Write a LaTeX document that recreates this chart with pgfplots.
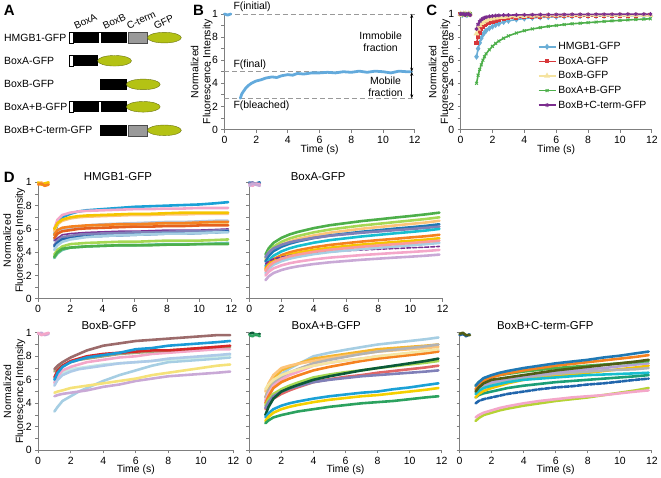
\documentclass[border=0pt]{standalone}
\usepackage{pgfplots}
\pgfplotsset{compat=1.18}
\usepackage{pgfplotstable}
\usepackage{fontspec}
\setmainfont{Liberation Sans}
\usetikzlibrary{arrows.meta}

\definecolor{axgray}{HTML}{7F7F7F}
\definecolor{cCyan}{HTML}{1BA1D6}
\definecolor{cCyanB}{HTML}{17BECF}
\definecolor{cPink}{HTML}{F4A7C9}
\definecolor{cLOrange}{HTML}{FDC47A}
\definecolor{cGold}{HTML}{F5C400}
\definecolor{cGoldOr}{HTML}{F5B52E}
\definecolor{cLYellow}{HTML}{F5E6A3}
\definecolor{cYellowB}{HTML}{F5E27A}
\definecolor{cYellow}{HTML}{F5D000}
\definecolor{cLGBlue}{HTML}{B4C8E4}
\definecolor{cOrange}{HTML}{F58220}
\definecolor{cDOrange}{HTML}{E5611E}
\definecolor{cPurple}{HTML}{7B3294}
\definecolor{cSlate}{HTML}{8080B8}
\definecolor{cDBlue}{HTML}{2166AC}
\definecolor{cBlue}{HTML}{1F78B4}
\definecolor{cBlueB}{HTML}{1A9AD6}
\definecolor{cLBlue}{HTML}{A6CEE3}
\definecolor{cLBlue2}{HTML}{AECBE8}
\definecolor{cLime}{HTML}{A6D854}
\definecolor{cLime2}{HTML}{B5D334}
\definecolor{cTeal}{HTML}{66C2A5}
\definecolor{cTeal2}{HTML}{1B9E77}
\definecolor{cGreen}{HTML}{4DAF4A}
\definecolor{cTGreen}{HTML}{2CA25F}
\definecolor{cDGreen}{HTML}{0B5A38}
\definecolor{cSalmon}{HTML}{FB9A99}
\definecolor{cMauve}{HTML}{C9A9D6}
\definecolor{cLPurple}{HTML}{B3A2D2}
\definecolor{cRed}{HTML}{D62728}
\definecolor{cRedL}{HTML}{E06666}
\definecolor{cBrown}{HTML}{9C6B6B}
\definecolor{cGrOlive}{HTML}{A3A37A}
\definecolor{cMint}{HTML}{C7EAE5}
\definecolor{cGray}{HTML}{B3B3B3}
\definecolor{cDOlive}{HTML}{4F5D16}
\definecolor{bBlue}{HTML}{63AADC}
\definecolor{lH}{HTML}{6BAED6}
\definecolor{lA}{HTML}{D7373A}
\definecolor{lB}{HTML}{F5E3A0}
\definecolor{lAB}{HTML}{4DAF4A}
\definecolor{lBC}{HTML}{7B2D8E}
\definecolor{gfp}{HTML}{B4C214}
\definecolor{gfpedge}{HTML}{6B7310}
\definecolor{boxgray}{HTML}{9A9A9A}

\pgfplotstableread{
t c1 c2 c3 c4 c5 c6 c7 c8 c9 c10 c11 c12 c13 c14 c15
0 nan nan 0.99 1.00 nan nan 0.98 nan nan nan nan nan nan nan nan
0.2 nan nan 1.00 0.98 nan nan 0.99 nan nan nan nan nan nan nan nan
0.4 nan nan 0.98 0.99 nan nan 0.97 nan nan nan nan nan nan nan nan
0.65 nan nan 0.99 1.00 nan nan 0.98 nan nan nan nan nan nan nan nan
0.8 nan nan nan nan nan nan nan nan nan nan nan nan nan nan nan
1 0.55 0.60 0.58 0.60 0.55 0.50 0.55 0.52 0.50 0.46 0.45 0.42 0.38 0.35 0.36
1.2 0.64 0.68 0.64 0.65 0.58 0.56 0.59 0.56 0.52 0.50 0.48 0.46 0.42 0.39 0.40
1.5 0.70 0.72 0.67 0.68 0.60 0.59 0.61 0.58 0.55 0.53 0.51 0.49 0.45 0.42 0.43
2 0.73 0.74 0.69 0.70 0.61 0.61 0.62 0.59 0.56 0.54 0.52 0.51 0.47 0.44 0.44
2.5 0.75 0.75 0.70 0.71 0.615 0.62 0.625 0.60 0.565 0.55 0.53 0.52 0.475 0.445 0.445
3 0.76 0.755 0.705 0.715 0.62 0.63 0.63 0.605 0.57 0.555 0.535 0.53 0.48 0.45 0.45
4 0.77 0.76 0.71 0.72 0.62 0.64 0.635 0.61 0.575 0.56 0.54 0.54 0.485 0.455 0.455
5 0.78 0.765 0.715 0.725 0.625 0.645 0.64 0.615 0.58 0.565 0.545 0.545 0.49 0.46 0.46
6 0.79 0.77 0.72 0.73 0.63 0.65 0.64 0.62 0.58 0.57 0.55 0.55 0.49 0.46 0.46
7 0.795 0.77 0.72 0.73 0.63 0.655 0.645 0.62 0.585 0.57 0.555 0.555 0.495 0.465 0.46
8 0.80 0.775 0.725 0.735 0.63 0.66 0.65 0.625 0.59 0.575 0.56 0.56 0.50 0.47 0.465
9 0.805 0.775 0.725 0.74 0.635 0.66 0.65 0.625 0.59 0.58 0.56 0.56 0.50 0.47 0.465
10 0.81 0.78 0.73 0.74 0.64 0.665 0.655 0.63 0.59 0.58 0.565 0.565 0.50 0.47 0.47
11 0.82 0.78 0.73 0.74 0.64 0.67 0.66 0.63 0.595 0.585 0.57 0.57 0.505 0.475 0.47
11.8 0.83 0.78 0.73 0.74 0.64 0.67 0.66 0.63 0.60 0.59 0.58 0.57 0.51 0.48 0.47
}\hmgbtab

\pgfplotstableread{
t c1 c2 c3 c4 c5 c6 c7 c8 c9 c10 c11 c12 c13
0 nan nan nan 1.00 0.99 nan nan nan nan nan nan 0.98 0.97
0.2 nan nan nan 0.98 1.00 nan nan nan nan nan nan 0.97 0.99
0.4 nan nan nan 0.99 0.98 nan nan nan nan nan nan 0.99 0.98
0.65 nan nan nan 1.00 0.99 nan nan nan nan nan nan 0.98 0.97
0.8 nan nan nan nan nan nan nan nan nan nan nan nan nan
1 0.38 0.35 0.33 0.32 0.36 0.28 0.26 0.25 0.30 0.22 0.24 0.20 0.16
1.2 0.434 0.403 0.381 0.368 0.399 0.328 0.304 0.291 0.323 0.259 0.279 0.233 0.193
1.5 0.481 0.448 0.425 0.41 0.433 0.37 0.341 0.326 0.342 0.293 0.313 0.262 0.222
2 0.524 0.49 0.466 0.448 0.464 0.408 0.376 0.358 0.36 0.324 0.344 0.288 0.248
2.5 0.553 0.518 0.493 0.474 0.485 0.434 0.399 0.38 0.372 0.345 0.365 0.306 0.266
3 0.574 0.539 0.514 0.493 0.5 0.453 0.417 0.396 0.381 0.36 0.38 0.319 0.279
4 0.607 0.571 0.544 0.522 0.524 0.482 0.443 0.42 0.395 0.384 0.404 0.339 0.299
5 0.632 0.595 0.568 0.544 0.542 0.504 0.463 0.439 0.405 0.402 0.422 0.354 0.314
6 0.65 0.613 0.585 0.56 0.555 0.52 0.478 0.453 0.413 0.415 0.435 0.365 0.325
7 0.668 0.63 0.602 0.576 0.568 0.536 0.492 0.466 0.42 0.428 0.448 0.376 0.336
8 0.682 0.644 0.616 0.589 0.578 0.549 0.504 0.477 0.426 0.438 0.458 0.385 0.345
9 0.697 0.658 0.629 0.602 0.589 0.562 0.515 0.488 0.432 0.449 0.469 0.394 0.354
10 0.711 0.672 0.643 0.614 0.599 0.574 0.527 0.498 0.438 0.459 0.479 0.402 0.362
11 0.726 0.686 0.656 0.627 0.61 0.587 0.538 0.509 0.444 0.47 0.49 0.411 0.371
11.8 0.74 0.70 0.67 0.64 0.62 0.60 0.55 0.52 0.45 0.48 0.50 0.42 0.38
}\boxatab

\pgfplotstableread{
t c1 c2 c3 c4 c5 c6 c7 c8 c9 c10
0 nan 0.99 nan nan 1.00 nan nan nan nan nan
0.2 nan 1.00 nan nan 0.98 nan nan nan nan nan
0.4 nan 0.98 nan nan 0.99 nan nan nan nan nan
0.65 nan 0.99 nan nan 1.00 nan nan nan nan nan
0.8 nan nan nan nan nan nan nan nan nan nan
1 0.33 0.46 0.49 0.58 0.57 0.55 0.67 0.62 0.60 0.69
1.2 0.37 0.47 0.50 0.62 0.63 0.60 0.70 0.68 0.66 0.72
1.5 0.42 0.48 0.51 0.66 0.68 0.64 0.72 0.72 0.71 0.75
2 0.46 0.49 0.53 0.69 0.71 0.67 0.75 0.76 0.75 0.79
2.5 0.50 0.50 0.54 0.70 0.73 0.69 0.77 0.78 0.77 0.82
3 0.53 0.51 0.55 0.71 0.75 0.70 0.78 0.80 0.79 0.85
4 0.59 0.54 0.57 0.73 0.77 0.72 0.80 0.82 0.81 0.89
5 0.64 0.56 0.59 0.74 0.79 0.74 0.82 0.83 0.83 0.91
6 0.68 0.59 0.61 0.75 0.80 0.75 0.83 0.84 0.86 0.93
7 0.72 0.61 0.64 0.76 0.82 0.76 0.84 0.85 0.87 0.94
8 0.75 0.63 0.66 0.77 0.83 0.78 0.85 0.85 0.89 0.95
9 0.76 0.64 0.68 0.78 0.84 0.79 0.86 0.86 0.90 0.96
10 0.77 0.65 0.70 0.79 0.85 0.80 0.87 0.87 0.91 0.97
11 0.78 0.66 0.72 0.80 0.86 0.81 0.88 0.88 0.92 0.98
11.8 0.79 0.67 0.73 0.81 0.86 0.82 0.88 0.89 0.93 0.98
}\boxbtab

\pgfplotstableread{
t c1 c2 c3 c4 c5 c6 c7 c8 c9 c10 c11 c12 c13 c14
0 nan nan nan nan nan nan nan nan nan nan 0.99 nan nan 0.98
0.2 nan nan nan nan nan nan nan nan nan nan 1.00 nan nan 0.97
0.4 nan nan nan nan nan nan nan nan nan nan 0.98 nan nan 0.99
0.65 nan nan nan nan nan nan nan nan nan nan 0.99 nan nan 0.97
0.8 nan nan nan nan nan nan nan nan nan nan nan nan nan nan
1 0.42 0.45 0.50 0.45 0.42 0.40 0.52 0.38 0.35 0.36 0.30 0.28 0.25 0.23
1.2 0.50 0.53 0.57 0.51 0.48 0.46 0.56 0.43 0.40 0.41 0.37 0.315 0.285 0.255
1.5 0.58 0.61 0.64 0.57 0.55 0.53 0.60 0.48 0.44 0.46 0.44 0.35 0.32 0.28
2 0.65 0.68 0.70 0.62 0.60 0.58 0.64 0.52 0.48 0.50 0.50 0.38 0.35 0.30
2.5 0.695 0.71 0.72 0.66 0.64 0.61 0.665 0.55 0.51 0.525 0.53 0.40 0.37 0.315
3 0.73 0.735 0.735 0.69 0.665 0.635 0.685 0.575 0.535 0.545 0.555 0.415 0.385 0.33
4 0.80 0.78 0.76 0.74 0.72 0.68 0.72 0.62 0.58 0.58 0.60 0.44 0.41 0.35
5 0.83 0.80 0.785 0.77 0.745 0.71 0.745 0.645 0.605 0.60 0.63 0.46 0.43 0.37
6 0.855 0.82 0.805 0.795 0.765 0.735 0.765 0.665 0.625 0.615 0.655 0.475 0.445 0.385
7 0.878 0.84 0.82 0.82 0.78 0.76 0.78 0.68 0.64 0.63 0.68 0.49 0.46 0.40
8 0.90 0.86 0.84 0.84 0.80 0.78 0.80 0.70 0.66 0.64 0.70 0.50 0.47 0.41
9 0.915 0.87 0.85 0.855 0.81 0.795 0.815 0.715 0.675 0.65 0.72 0.52 0.485 0.42
10 0.93 0.88 0.86 0.87 0.825 0.81 0.83 0.73 0.69 0.66 0.74 0.535 0.50 0.435
11 0.945 0.89 0.87 0.885 0.84 0.825 0.845 0.745 0.705 0.67 0.76 0.555 0.515 0.45
11.8 0.96 0.90 0.88 0.90 0.85 0.84 0.86 0.76 0.72 0.68 0.78 0.57 0.53 0.46
}\boxabtab

\pgfplotstableread{
t c1 c2 c3 c4 c5 c6 c7 c8 c9 c10 c11 c12
0 nan nan 0.98 nan nan nan nan nan nan nan nan 0.99
0.2 nan nan 0.99 nan nan nan nan nan nan nan nan 1.00
0.4 nan nan 0.97 nan nan nan nan nan nan nan nan 0.98
0.65 nan nan 0.99 nan nan nan nan nan nan nan nan 0.98
0.8 nan nan nan nan nan nan nan nan nan nan nan nan
1 0.25 0.28 0.40 0.45 0.45 0.50 0.52 0.48 0.55 0.52 0.55 0.50
1.2 0.275 0.30 0.42 0.47 0.48 0.525 0.54 0.505 0.58 0.555 0.58 0.535
1.5 0.30 0.32 0.435 0.485 0.505 0.55 0.56 0.53 0.61 0.59 0.615 0.57
2 0.32 0.34 0.45 0.50 0.53 0.57 0.58 0.55 0.63 0.62 0.64 0.60
2.5 0.34 0.36 0.465 0.515 0.55 0.585 0.595 0.565 0.64 0.64 0.66 0.61
3 0.355 0.375 0.48 0.53 0.57 0.60 0.61 0.58 0.65 0.655 0.675 0.62
4 0.38 0.40 0.50 0.55 0.60 0.62 0.63 0.60 0.67 0.68 0.70 0.64
5 0.40 0.42 0.52 0.565 0.62 0.635 0.65 0.61 0.685 0.70 0.72 0.66
6 0.42 0.435 0.535 0.58 0.635 0.65 0.665 0.62 0.70 0.72 0.74 0.68
7 0.435 0.45 0.545 0.59 0.645 0.66 0.675 0.63 0.71 0.735 0.755 0.695
8 0.45 0.46 0.56 0.60 0.66 0.67 0.69 0.64 0.72 0.75 0.77 0.71
9 0.47 0.47 0.57 0.61 0.675 0.68 0.70 0.645 0.73 0.765 0.79 0.725
10 0.49 0.485 0.585 0.62 0.69 0.685 0.715 0.65 0.74 0.78 0.805 0.74
11 0.51 0.50 0.60 0.63 0.705 0.69 0.73 0.655 0.75 0.795 0.825 0.755
11.8 0.53 0.51 0.61 0.64 0.72 0.70 0.74 0.66 0.76 0.81 0.84 0.77
}\boxbctab

\pgfplotstableread{
t h a b ab bc
0 1.00 1.00 1.00 1.00 1.00
0.1 0.99 1.00 0.99 1.00 1.00
0.2 1.00 0.99 1.00 0.99 1.00
0.3 1.00 1.00 1.00 1.00 0.99
0.4 0.99 1.00 0.99 1.00 1.00
0.5 1.00 0.99 1.00 0.99 1.00
0.6 1.00 1.00 1.00 1.00 0.99
0.8 nan nan nan nan nan
1 0.63 0.75 0.83 0.40 0.87
1.1 0.70 0.80 0.87 0.47 0.91
1.2 0.75 0.84 0.90 0.52 0.935
1.3 0.79 0.87 0.92 0.56 0.95
1.4 0.82 0.89 0.93 0.60 0.96
1.5 0.84 0.905 0.94 0.63 0.967
1.6 0.855 0.915 0.945 0.655 0.972
1.8 0.875 0.925 0.955 0.69 0.978
2 0.89 0.935 0.96 0.72 0.982
2.2 0.905 0.943 0.965 0.745 0.985
2.4 0.915 0.95 0.97 0.765 0.987
2.7 0.93 0.957 0.973 0.79 0.989
3 0.94 0.962 0.976 0.81 0.99
3.5 0.952 0.968 0.98 0.835 0.991
4 0.96 0.972 0.982 0.855 0.992
4.5 0.966 0.975 0.984 0.87 0.993
5 0.97 0.977 0.985 0.882 0.994
5.5 0.973 0.979 0.986 0.893 0.994
6 0.975 0.98 0.987 0.90 0.995
6.5 0.977 0.981 0.987 0.908 0.995
7 0.979 0.982 0.988 0.915 0.996
7.5 0.98 0.983 0.988 0.92 0.996
8 0.981 0.984 0.989 0.925 0.996
8.5 0.982 0.985 0.989 0.93 0.997
9 0.983 0.985 0.989 0.935 0.997
9.5 0.984 0.986 0.99 0.94 0.997
10 0.985 0.986 0.99 0.944 0.998
10.5 0.986 0.987 0.99 0.948 0.998
11 0.987 0.987 0.99 0.952 0.998
11.5 0.987 0.988 0.99 0.955 0.998
11.9 0.988 0.988 0.99 0.958 0.998
}\ctab

\pgfplotsset{
  fr/.style={scale only axis, xmin=0, xmax=12, ymin=0, ymax=1,
    axis lines*=left, axis line style={draw=axgray, line width=0.9pt},
    xtick={0,2,4,6,8,10,12}, ytick={0,0.2,0.4,0.6,0.8,1},
    minor ytick={0.1,0.3,0.5,0.7,0.9},
    tick pos=left, tick align=outside, major tick length=3pt, minor tick length=3pt,
    tick style={draw=axgray, line width=0.8pt},
    tick label style={font=\fontsize{10.5}{12}\selectfont},
    clip=false, unbounded coords=jump,
    /pgf/number format/assume math mode=true,
    yticklabels={0,.2,.4,.6,.8,1},
    label style={font=\fontsize{10.5}{12}\selectfont},
    ylabel style={align=center, anchor=center},
    xlabel style={anchor=center}},
  withyl/.style={ylabel={Normalized\\Fluorescence Intensity}},
  cv/.style={line width=2.6pt, line join=round, line cap=round, mark=none},
}

\newcommand{\ttl}[3]{\node[font=\fontsize{11.5}{13}\selectfont] at (axis cs:#1,#2) {#3};}

\begin{document}
\begin{tikzpicture}
\path (0pt,0pt) rectangle (661pt,478pt);

% ---------- Panel A ----------
\begin{axis}[at={(0pt,328pt)}, anchor=origin, scale only axis, width=230pt, height=150pt,
  xmin=0, xmax=230, ymin=0, ymax=150, hide axis, clip=false]
\draw[black, fill=white, line width=0.6pt] (axis cs:68.3,106.7) rectangle (axis cs:72.3,117.7);
\fill[black] (axis cs:72.3,106.7) rectangle (axis cs:125.7,117.7);
\fill[white] (axis cs:98.5,107.3) rectangle (axis cs:99.9,117.1);
\draw[fill=boxgray, draw=black!70, line width=0.5pt] (axis cs:127.3,106.7) rectangle (axis cs:146.7,117.7);
\draw[fill=gfp, draw=gfpedge, line width=0.4pt] (axis cs:163.7,112.2) ellipse [x radius=17, y radius=5.3];
\draw[black, fill=white, line width=0.6pt] (axis cs:68.3,83.5) rectangle (axis cs:72.3,94.5);
\fill[black] (axis cs:72.3,83.5) rectangle (axis cs:96.7,94.5);
\draw[fill=gfp, draw=gfpedge, line width=0.4pt] (axis cs:113.7,89) ellipse [x radius=17, y radius=5.3];
\fill[black] (axis cs:99.3,59.8) rectangle (axis cs:125.7,70.8);
\draw[fill=gfp, draw=gfpedge, line width=0.4pt] (axis cs:142.5,65.3) ellipse [x radius=17, y radius=5.3];
\draw[black, fill=white, line width=0.6pt] (axis cs:68.3,37.3) rectangle (axis cs:72.3,48.3);
\fill[black] (axis cs:72.3,37.3) rectangle (axis cs:125.7,48.3);
\fill[white] (axis cs:98.5,37.9) rectangle (axis cs:99.9,47.7);
\draw[fill=gfp, draw=gfpedge, line width=0.4pt] (axis cs:142.5,42.8) ellipse [x radius=17, y radius=5.3];
\fill[black] (axis cs:99.3,13.7) rectangle (axis cs:125.7,24.7);
\draw[fill=boxgray, draw=black!70, line width=0.5pt] (axis cs:127.3,13.7) rectangle (axis cs:146.7,24.7);
\draw[fill=gfp, draw=gfpedge, line width=0.4pt] (axis cs:163.7,19.2) ellipse [x radius=17, y radius=5.3];
\begin{scope}[font=\fontsize{10.5}{12}\selectfont]
\node[anchor=west, inner sep=0] at (axis cs:2.7,112.2) {HMGB1-GFP};
\node[anchor=west, inner sep=0] at (axis cs:2.7,89) {BoxA-GFP};
\node[anchor=west, inner sep=0] at (axis cs:2.7,65.3) {BoxB-GFP};
\node[anchor=west, inner sep=0] at (axis cs:2.7,42.8) {BoxA+B-GFP};
\node[anchor=west, inner sep=0] at (axis cs:2.7,19.2) {BoxB+C-term-GFP};
\end{scope}
\begin{scope}[font=\fontsize{10}{11}\selectfont]
\node[rotate=25, anchor=south west, inner sep=0] at (axis cs:75,120) {BoxA};
\node[rotate=25, anchor=south west, inner sep=0] at (axis cs:104,120) {BoxB};
\node[rotate=25, anchor=south west, inner sep=0] at (axis cs:128,120) {C-term};
\node[rotate=25, anchor=south west, inner sep=0] at (axis cs:155,120) {GFP};
\end{scope}
\end{axis}

% ---------- Panel B ----------
\begin{axis}[fr, withyl, at={(224pt,348pt)}, anchor=origin, width=191pt, height=116pt,
  xlabel={Time (s)},
  xlabel style={at={(axis description cs:0.5,-0.175)}},
  ylabel style={at={(axis description cs:-0.12,0.5)}}]
\addplot[dashed, draw=gray!80, line width=0.8pt, dash pattern=on 5pt off 3pt] coordinates {(0.15,1) (12,1)};
\addplot[dashed, draw=gray!80, line width=0.8pt, dash pattern=on 5pt off 3pt] coordinates {(0,0.5) (12,0.5)};
\addplot[dashed, draw=gray!80, line width=0.8pt, dash pattern=on 5pt off 3pt] coordinates {(0,0.27) (12,0.27)};
\addplot[cv, bBlue, line width=2.8pt] coordinates {(0,1) (0.2,0.99) (0.4,1.0)};
\addplot[cv, bBlue, line width=2.8pt] coordinates {
(1,0.27) (1.1,0.31) (1.2,0.33) (1.35,0.36) (1.5,0.38) (1.7,0.40) (2,0.42) (2.3,0.43)
(2.6,0.445) (3,0.455) (3.3,0.45) (3.6,0.465) (4,0.475) (4.3,0.47) (4.6,0.485) (5,0.48)
(5.5,0.49) (6,0.49) (6.5,0.495) (7,0.49) (7.5,0.50) (8,0.495) (8.5,0.505) (9,0.495)
(9.5,0.505) (10,0.50) (10.5,0.49) (11,0.505) (11.5,0.50) (11.8,0.50)};
\draw[{Stealth[length=4pt,width=3pt]}-{Stealth[length=4pt,width=3pt]}, line width=0.7pt] (axis cs:11.81,1) -- (axis cs:11.81,0.5);
\draw[{Stealth[length=4pt,width=3pt]}-{Stealth[length=4pt,width=3pt]}, line width=0.7pt] (axis cs:11.81,0.5) -- (axis cs:11.81,0.27);
\begin{scope}[font=\fontsize{10.5}{12}\selectfont]
\node[anchor=west, inner sep=0] at (axis cs:0.56,1.06) {F(initial)};
\node[anchor=west, inner sep=0] at (axis cs:0.56,0.56) {F(final)};
\node[anchor=west, inner sep=0] at (axis cs:0.56,0.207) {F(bleached)};
\node[anchor=east, align=center, inner sep=0] at (axis cs:11.2,0.76) {Immobile\\fraction};
\node[anchor=east, align=center, inner sep=0] at (axis cs:11.25,0.37) {Mobile\\fraction};
\end{scope}
\end{axis}

% ---------- Panel C ----------
\begin{axis}[fr, withyl, at={(461pt,348pt)}, anchor=origin, width=192pt, height=116pt,
  xlabel={Time (s)},
  xlabel style={at={(axis description cs:0.5,-0.175)}},
  ylabel style={at={(axis description cs:-0.11,0.5)}},
  legend style={at={(axis cs:4.64,0.79)}, anchor=north west, draw=none, fill=none,
    font=\fontsize{10.5}{12}\selectfont, row sep=1.8pt},
  legend cell align=left]
\addplot[color=lH, line width=1.6pt, mark=diamond*, mark size=1.8pt] table[x=t,y=h]{\ctab};
\addlegendentry{HMGB1-GFP}
\addplot[color=lA, line width=1.6pt, mark=square*, mark size=1.3pt] table[x=t,y=a]{\ctab};
\addlegendentry{BoxA-GFP}
\addplot[color=lB, line width=1.6pt, mark=triangle*, mark size=1.9pt] table[x=t,y=b]{\ctab};
\addlegendentry{BoxB-GFP}
\addplot[color=lAB, line width=1.6pt, mark=x, mark size=2pt, mark options={line width=1pt}] table[x=t,y=ab]{\ctab};
\addlegendentry{BoxA+B-GFP}
\addplot[color=lBC, line width=1.6pt, mark=asterisk, mark size=2pt, mark options={line width=1pt}] table[x=t,y=bc]{\ctab};
\addlegendentry{BoxB+C-term-GFP}
\end{axis}

% ---------- Panel D: HMGB1 ----------
\begin{axis}[fr, withyl, at={(37pt,178pt)}, anchor=origin, width=194pt, height=117pt,
  ylabel style={at={(axis description cs:-0.124,0.5)}}]
\addplot[cv, cCyan] table[x=t,y=c1]{\hmgbtab};
\addplot[cv, cPink] table[x=t,y=c2]{\hmgbtab};
\addplot[cv, cLOrange] table[x=t,y=c3]{\hmgbtab};
\addplot[cv, cGold] table[x=t,y=c4]{\hmgbtab};
\addplot[cv, cLYellow] table[x=t,y=c5]{\hmgbtab};
\addplot[cv, cLGBlue] table[x=t,y=c6]{\hmgbtab};
\addplot[cv, cOrange] table[x=t,y=c7]{\hmgbtab};
\addplot[cv, cDOrange] table[x=t,y=c8]{\hmgbtab};
\addplot[cv, cPurple, line width=1.6pt] table[x=t,y=c9]{\hmgbtab};
\addplot[cv, cSlate] table[x=t,y=c10]{\hmgbtab};
\addplot[cv, cDBlue] table[x=t,y=c11]{\hmgbtab};
\addplot[cv, cLBlue] table[x=t,y=c12]{\hmgbtab};
\addplot[cv, cLime] table[x=t,y=c13]{\hmgbtab};
\addplot[cv, cTeal] table[x=t,y=c14]{\hmgbtab};
\addplot[cv, cGreen] table[x=t,y=c15]{\hmgbtab};
\ttl{4.95}{1.051}{HMGB1-GFP}
\end{axis}

% ---------- Panel D: BoxA ----------
\begin{axis}[fr, at={(249pt,178pt)}, anchor=origin, width=194pt, height=117pt, yticklabels={}]
\addplot[cv, cGreen] table[x=t,y=c1]{\boxatab};
\addplot[cv, cLime] table[x=t,y=c2]{\boxatab};
\addplot[cv, cLOrange] table[x=t,y=c3]{\boxatab};
\addplot[cv, cBlue] table[x=t,y=c4]{\boxatab};
\addplot[cv, cSlate] table[x=t,y=c5]{\boxatab};
\addplot[cv, cCyanB] table[x=t,y=c6]{\boxatab};
\addplot[cv, cOrange] table[x=t,y=c7]{\boxatab};
\addplot[cv, cGold] table[x=t,y=c8]{\boxatab};
\addplot[cv, cPurple, line width=1.6pt, dash pattern=on 4pt off 2pt] table[x=t,y=c9]{\boxatab};
\addplot[cv, cLBlue] table[x=t,y=c10]{\boxatab};
\addplot[cv, cSalmon] table[x=t,y=c11]{\boxatab};
\addplot[cv, cPink] table[x=t,y=c12]{\boxatab};
\addplot[cv, cMauve] table[x=t,y=c13]{\boxatab};
\ttl{4.27}{1.051}{BoxA-GFP}
\end{axis}

% ---------- Panel D: BoxB ----------
\begin{axis}[fr, withyl, at={(37pt,26pt)}, anchor=origin, width=196pt, height=118pt,
  xlabel={Time (s)},
  xlabel style={at={(axis description cs:0.5,-0.162)}},
  ylabel style={at={(axis description cs:-0.122,0.5)}}]
\addplot[cv, cLBlue] table[x=t,y=c1]{\boxbtab};
\addplot[cv, cMauve] table[x=t,y=c2]{\boxbtab};
\addplot[cv, cYellowB] table[x=t,y=c3]{\boxbtab};
\addplot[cv, cMint] table[x=t,y=c4]{\boxbtab};
\addplot[cv, cPink] table[x=t,y=c5]{\boxbtab};
\addplot[cv, cLBlue2] table[x=t,y=c6]{\boxbtab};
\addplot[cv, cGrOlive] table[x=t,y=c7]{\boxbtab};
\addplot[cv, cRed] table[x=t,y=c8]{\boxbtab};
\addplot[cv, cBlueB] table[x=t,y=c9]{\boxbtab};
\addplot[cv, cBrown] table[x=t,y=c10]{\boxbtab};
\ttl{4.35}{1.06}{BoxB-GFP}
\end{axis}

% ---------- Panel D: BoxA+B ----------
\begin{axis}[fr, at={(249pt,26pt)}, anchor=origin, width=193pt, height=118pt, yticklabels={},
  xlabel={Time (s)},
  xlabel style={at={(axis description cs:0.5,-0.162)}}]
\addplot[cv, cLBlue] table[x=t,y=c1]{\boxabtab};
\addplot[cv, cGoldOr] table[x=t,y=c2]{\boxabtab};
\addplot[cv, cLOrange] table[x=t,y=c3]{\boxabtab};
\addplot[cv, cGray] table[x=t,y=c4]{\boxabtab};
\addplot[cv, cPink] table[x=t,y=c5]{\boxabtab};
\addplot[cv, cOrange] table[x=t,y=c6]{\boxabtab};
\addplot[cv, cLYellow] table[x=t,y=c7]{\boxabtab};
\addplot[cv, cLime] table[x=t,y=c8]{\boxabtab};
\addplot[cv, cRedL] table[x=t,y=c9]{\boxabtab};
\addplot[cv, cSlate] table[x=t,y=c10]{\boxabtab};
\addplot[cv, cDGreen] table[x=t,y=c11]{\boxabtab};
\addplot[cv, cCyan] table[x=t,y=c12]{\boxabtab};
\addplot[cv, cYellow] table[x=t,y=c13]{\boxabtab};
\addplot[cv, cTGreen] table[x=t,y=c14]{\boxabtab};
\ttl{4.8}{1.06}{BoxA+B-GFP}
\end{axis}

% ---------- Panel D: BoxB+C ----------
\begin{axis}[fr, at={(460pt,26pt)}, anchor=origin, width=193pt, height=118pt, yticklabels={},
  xlabel={Time (s)},
  xlabel style={at={(axis description cs:0.5,-0.162)}}]
\addplot[cv, cLime2] table[x=t,y=c1]{\boxbctab};
\addplot[cv, cPink] table[x=t,y=c2]{\boxbctab};
\addplot[cv, cDBlue, dash pattern=on 5pt off 1.5pt] table[x=t,y=c3]{\boxbctab};
\addplot[cv, cTeal2] table[x=t,y=c4]{\boxbctab};
\addplot[cv, cGold] table[x=t,y=c5]{\boxbctab};
\addplot[cv, cGray] table[x=t,y=c6]{\boxbctab};
\addplot[cv, cLPurple] table[x=t,y=c7]{\boxbctab};
\addplot[cv, cCyanB] table[x=t,y=c8]{\boxbctab};
\addplot[cv, cGreen] table[x=t,y=c9]{\boxbctab};
\addplot[cv, cOrange] table[x=t,y=c10]{\boxbctab};
\addplot[cv, cBlue] table[x=t,y=c11]{\boxbctab};
\addplot[cv, cDOlive] table[x=t,y=c12]{\boxbctab};
\ttl{5.35}{1.06}{BoxB+C-term-GFP}
\end{axis}

% panel letters
\begin{scope}[font=\fontsize{15}{15}\selectfont\bfseries]
\node at (8pt,468pt) {A};
\node at (198pt,468pt) {B};
\node at (432pt,468pt) {C};
\node at (8pt,300pt) {D};
\end{scope}
\end{tikzpicture}
\end{document}
